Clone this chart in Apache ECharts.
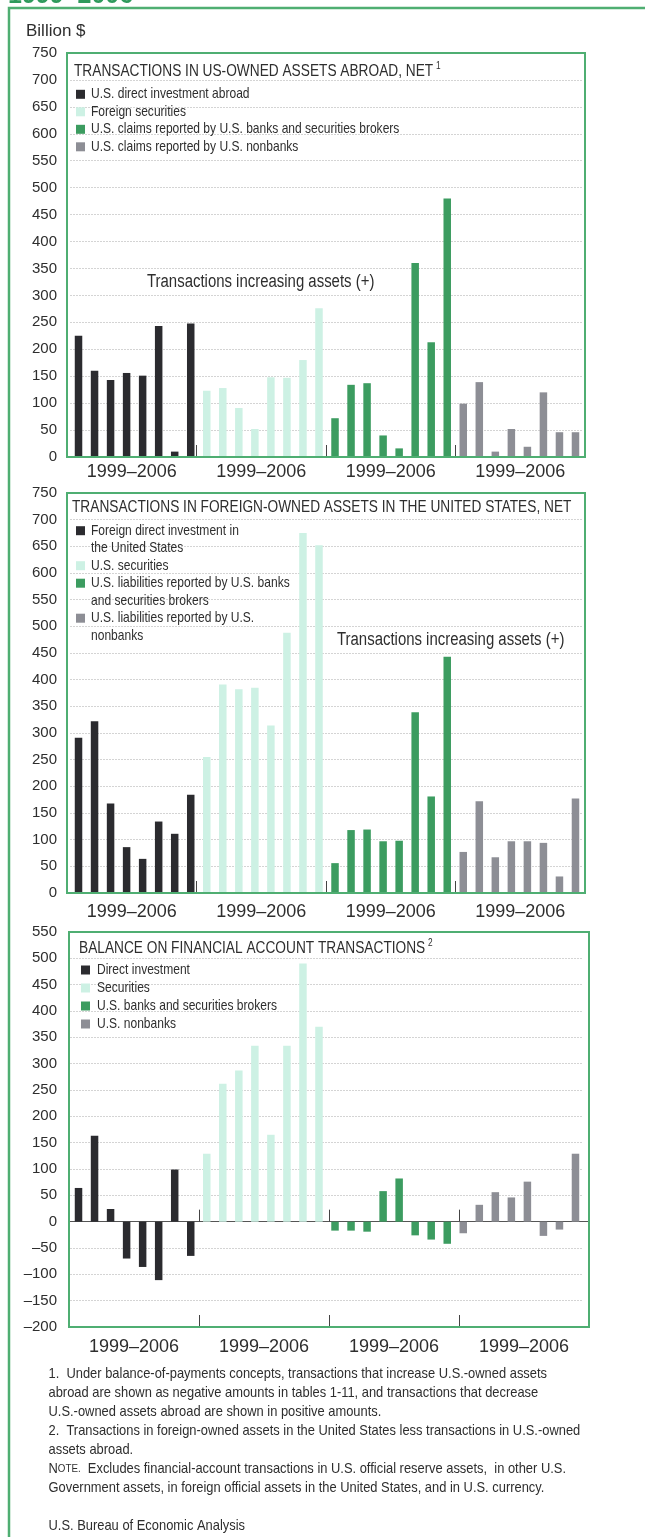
<!DOCTYPE html>
<html lang="en">
<head>
<meta charset="UTF-8">
<script src="https://cdn.jsdelivr.net/npm/echarts@6.0.0/dist/echarts.min.js"></script>
<style>
    * { margin: 0; padding: 0; }
    body { background: #fff; }
    #chart { width: 645px; height: 1537px; }
</style>
<title>Financial account transactions 1999-2006</title>
</head>
<body>
<div id="chart"></div>
<script>
    // years inside each group, group labels under the axis
    var years = ['1999', '2000', '2001', '2002', '2003', '2004', '2005', '2006'];
    var groupLabels = ['1999–2006', '1999–2006', '1999–2006', '1999–2006'];

    // panel 1: US-owned assets abroad (billion $)
    var usDirectAbroad = [225, 160, 143, 156, 151, 243, 10, 248];
    var foreignSecurities = [123, 128, 91, 52, 148, 147, 180, 276];
    var usClaimsBanks = [72, 134, 137, 40, 16, 360, 213, 480];
    var usClaimsNonbanks = [99, 139, 10, 52, 19, 120, 46, 46];

    // panel 2: foreign-owned assets in the US
    var foreignDirectInUS = [291, 322, 168, 86, 64, 134, 111, 184];
    var usSecurities = [255, 391, 382, 385, 314, 488, 675, 652];
    var usLiabBanks = [56, 118, 119, 97, 98, 339, 181, 443];
    var usLiabNonbanks = [77, 172, 67, 97, 97, 94, 31, 177];

    // panel 3: balance
    var balDirect = [64, 163, 24, -70, -86, -111, 99, -65];
    var balSecurities = [129, 262, 287, 334, 165, 334, 490, 370];
    var balBanks = [-17, -17, -19, 58, 82, -26, -34, -42];
    var balNonbanks = [-22, 32, 56, 46, 76, -27, -15, 129];

    var BLACK = '#2b2b2f', MINT = '#cdf1e4', GREEN = '#3c9c60', GRAY = '#8d8e95';
    var FRAME = '#4fae72', TEXT = '#2e2e2e';
    var SANS = '"Liberation Sans", Arial, sans-serif';
    var NARROW = 0.83;   // no condensed font installed, squeeze the text instead

    var slots = [];
    for (var g = 0; g < 4; g++) {
        years.forEach(function (y) { slots.push(g + '-' + y); });
    }

    function spread(group, values) {
        var out = [];
        for (var i = 0; i < 32; i++) {
            out.push(Math.floor(i / 8) == group ? values[i % 8] : '-');
        }
        return out;
    }

    var panels = [
        {
            top: 53, height: 404, min: 0, max: 750, boxLeft: 67, boxRight: 585, tickWidth: 518, labelMargin: 15,
            title: 'TRANSACTIONS IN US-OWNED ASSETS ABROAD, NET', note: '1', titleX: 74, titleY: 71,
            legendIcon: 76, legendText: 91, legendY: 94.3, legendStep: 17.5,
            legend: [['U.S. direct investment abroad'], ['Foreign securities'],
                ['U.S. claims reported by U.S. banks and securities brokers'], ['U.S. claims reported by U.S. nonbanks']],
            values: [usDirectAbroad, foreignSecurities, usClaimsBanks, usClaimsNonbanks]
        },
        {
            top: 493, height: 400, min: 0, max: 750, boxLeft: 67, boxRight: 585, tickWidth: 518, labelMargin: 19,
            title: 'TRANSACTIONS IN FOREIGN-OWNED ASSETS IN THE UNITED STATES, NET', note: '', titleX: 72, titleY: 507,
            legendIcon: 76, legendText: 91, legendY: 530.7, legendStep: 17.5,
            legend: [['Foreign direct investment in', 'the United States'], ['U.S. securities'],
                ['U.S. liabilities reported by U.S. banks', 'and securities brokers'], ['U.S. liabilities reported by U.S.', 'nonbanks']],
            values: [foreignDirectInUS, usSecurities, usLiabBanks, usLiabNonbanks]
        },
        {
            top: 932, height: 395, min: -200, max: 550, boxLeft: 69, boxRight: 589, tickWidth: 520, labelMargin: 20,
            title: 'BALANCE ON FINANCIAL ACCOUNT TRANSACTIONS', note: '2', titleX: 79, titleY: 948,
            legendIcon: 81, legendText: 97, legendY: 970, legendStep: 18,
            legend: [['Direct investment'], ['Securities'], ['U.S. banks and securities brokers'], ['U.S. nonbanks']],
            values: [balDirect, balSecurities, balBanks, balNonbanks]
        }
    ];
    var colors = [BLACK, MINT, GREEN, GRAY];

    var grid = [], xAxis = [], yAxis = [], series = [], graphic = [];

    panels.forEach(function (p, k) {
        var gA = grid.length;
        grid.push({ left: 70.5, width: 513, top: p.top, height: p.height });
        grid.push({ left: p.boxLeft, width: p.tickWidth, top: p.top, height: p.height });

        // bars axis (hidden) and group label axis
        var xA = xAxis.length;
        xAxis.push({ type: 'category', gridIndex: gA, data: slots, show: false });
        xAxis.push({
            type: 'category', gridIndex: gA + 1, data: groupLabels, position: 'bottom',
            axisLine: { show: false, onZero: false },
            axisTick: { show: true, inside: true, length: 12, lineStyle: { color: '#444', width: 1 } },
            axisLabel: { fontSize: 18, fontFamily: SANS, color: TEXT, margin: p.labelMargin, verticalAlign: 'middle' },
            splitLine: { show: false }
        });
        if (p.min < 0) {
            xAxis.push({
                type: 'category', gridIndex: gA + 1, data: groupLabels, position: 'bottom',
                axisLine: { show: true, onZero: true, lineStyle: { color: '#555', width: 1 } },
                axisTick: { show: true, inside: true, length: 12, lineStyle: { color: '#444', width: 1 } },
                axisLabel: { show: false },
                splitLine: { show: false }
            });
        }

        var yA = yAxis.length;
        yAxis.push({
            type: 'value', gridIndex: gA, min: p.min, max: p.max, interval: 50,
            axisLine: { show: false }, axisTick: { show: false },
            axisLabel: {
                fontSize: 15, fontFamily: SANS, color: TEXT, margin: 13.5,
                formatter: function (v) { return v < 0 ? '–' + (-v) : v; }
            },
            splitLine: { show: true, lineStyle: { color: '#a8a8a8', type: [1, 2], width: 1 } }
        });
        yAxis.push({ type: 'value', gridIndex: gA + 1, min: p.min, max: p.max, interval: 50, show: false });

        p.values.forEach(function (vals, i) {
            series.push({
                type: 'bar', name: p.legend[i].join(' '),
                xAxisIndex: xA, yAxisIndex: yA,
                data: spread(i, vals),
                barWidth: 7.5, barGap: '-100%',
                itemStyle: { color: colors[i] },
                silent: true
            });
        });

        // panel box
        graphic.push({
            type: 'rect', z: 100,
            shape: { x: p.boxLeft, y: p.top, width: p.boxRight - p.boxLeft, height: p.height },
            style: { fill: 'none', stroke: FRAME, lineWidth: 2 }
        });

        // title with footnote mark
        graphic.push({
            type: 'text', z: 101, x: p.titleX, y: p.titleY, scaleX: NARROW,
            style: {
                text: '{t|' + p.title + '}' + (p.note ? ' {s|' + p.note + '}' : ''),
                verticalAlign: 'middle', textVerticalAlign: 'middle',
                rich: {
                    t: { fontSize: 16.5, fontFamily: SANS, fill: TEXT, color: TEXT },
                    s: { fontSize: 10, fontFamily: SANS, fill: TEXT, color: TEXT, padding: [0, 0, 9, 0] }
                }
            }
        });

        // legend
        var line = 0;
        p.legend.forEach(function (lines, i) {
            var cy = p.legendY + line * p.legendStep;
            graphic.push({
                type: 'rect', z: 101,
                shape: { x: p.legendIcon, y: cy - 4.5, width: 9, height: 9 },
                style: { fill: colors[i] }
            });
            graphic.push({
                type: 'text', z: 101, x: p.legendText, y: cy - p.legendStep / 2, scaleX: NARROW,
                style: {
                    text: lines.join('\n'), fontSize: 14.5, fontFamily: SANS, fill: TEXT,
                    lineHeight: p.legendStep, verticalAlign: 'top', textVerticalAlign: 'top'
                }
            });
            line += lines.length;
        });
    });

    // plus-sign notes
    [[147, 282], [337, 640]].forEach(function (pos) {
        graphic.push({
            type: 'text', z: 101, x: pos[0], y: pos[1], scaleX: NARROW,
            style: {
                text: 'Transactions increasing assets (+)', fontSize: 18, fontFamily: SANS, fill: TEXT,
                verticalAlign: 'middle', textVerticalAlign: 'middle'
            }
        });
    });

    // outer frame, heading remnants
    graphic.push({
        type: 'polyline', z: 100,
        shape: { points: [[9, 1537], [9, 8], [645, 8]] },
        style: { fill: 'none', stroke: FRAME, lineWidth: 2.5 }
    });
    graphic.push({
        type: 'text', x: 8, y: -4,
        style: {
            text: '1999–2006', fontSize: 25, fontWeight: 'bold', fontFamily: SANS, fill: '#2f9a5c',
            verticalAlign: 'middle', textVerticalAlign: 'middle'
        }
    });
    graphic.push({
        type: 'text', x: 26, y: 31,
        style: {
            text: 'Billion $', fontSize: 17, fontFamily: SANS, fill: TEXT,
            verticalAlign: 'middle', textVerticalAlign: 'middle'
        }
    });

    var footnotes = [
        '1.  Under balance-of-payments concepts, transactions that increase U.S.-owned assets',
        'abroad are shown as negative amounts in tables 1-11, and transactions that decrease',
        'U.S.-owned assets abroad are shown in positive amounts.',
        '2.  Transactions in foreign-owned assets in the United States less transactions in U.S.-owned',
        'assets abroad.',
        '{n|N}{sc|OTE.}  Excludes financial-account transactions in U.S. official reserve assets,  in other U.S.',
        'Government assets, in foreign official assets in the United States, and in U.S. currency.',
        '',
        'U.S. Bureau of Economic Analysis'
    ];
    graphic.push({
        type: 'text', x: 48.5, y: 1364, scaleX: 0.89,
        style: {
            text: footnotes.join('\n'), fontSize: 14.5, fontFamily: SANS, fill: TEXT, lineHeight: 19,
            verticalAlign: 'top', textVerticalAlign: 'top',
            rich: {
                n: { fontSize: 14.5, fontFamily: SANS, fill: TEXT, color: TEXT, lineHeight: 19 },
                sc: { fontSize: 11, fontFamily: SANS, fill: TEXT, color: TEXT, lineHeight: 19 }
            }
        }
    });

    var myChart = echarts.init(document.getElementById('chart'));
    myChart.setOption({
        animation: false,
        backgroundColor: '#fff',
        grid: grid,
        xAxis: xAxis,
        yAxis: yAxis,
        series: series,
        graphic: graphic
    });
</script>
</body>
</html>
